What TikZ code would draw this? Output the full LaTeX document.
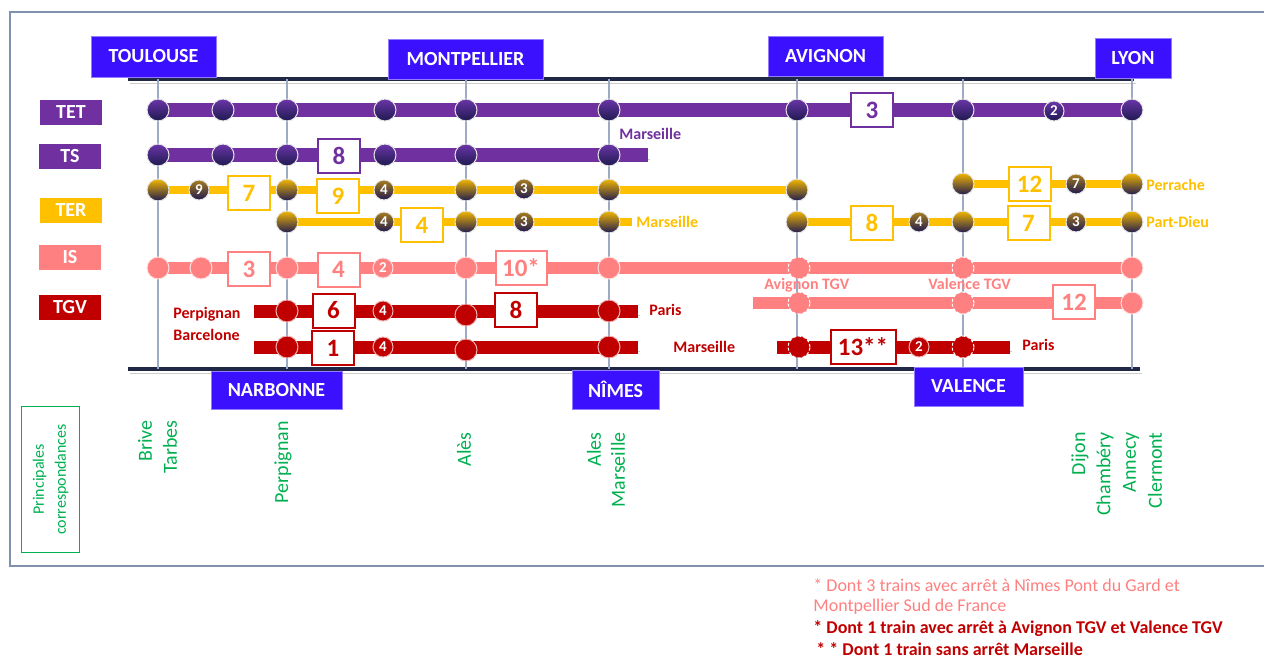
\documentclass[tikz,border=0pt]{standalone}
\usepackage{fontspec}
\setmainfont{Carlito}
\usetikzlibrary{positioning,shadings}

\definecolor{cityblue}{HTML}{3A10FF}
\definecolor{tetpurple}{HTML}{7030A0}
\definecolor{teryellow}{HTML}{FFC000}
\definecolor{issalmon}{HTML}{FF8080}
\definecolor{tgvred}{HTML}{C00000}
\definecolor{corrgreen}{HTML}{00B050}
\definecolor{railgray}{HTML}{9DAAC6}
\definecolor{framegray}{HTML}{8090AE}
\definecolor{navy}{HTML}{1F2847}
\definecolor{stndark}{HTML}{1E1A50}
\definecolor{stnpurple}{HTML}{6A35A8}
\definecolor{stngold}{HTML}{F2B600}
\definecolor{minorgold}{HTML}{A67C1E}

\pgfdeclarelayer{back}
\pgfdeclarelayer{mid}
\pgfsetlayers{back,mid,main}

\tikzset{
  city/.style={fill=cityblue, draw=cityblue!55!white, line width=0.4pt, text=white,
    font=\fontsize{10}{12}\selectfont\bfseries, inner sep=0pt},
  kind/.style={fill=#1, text=white, font=\fontsize{10}{12}\selectfont\bfseries,
    inner sep=0pt, minimum width=31pt, minimum height=12.5pt},
  numbox/.style={draw=#1, text=#1, fill=white, line width=1pt, inner sep=0pt,
    font=\fontsize{12.5}{14}\selectfont\bfseries, minimum width=21pt, minimum height=17pt},
  stn/.style={circle, inner sep=0pt, minimum size=11pt, line width=0.5pt},
  tetstn/.style={stn, draw=white!80!gray, top color=stnpurple, bottom color=stndark},
  terstn/.style={stn, draw=white!80!gray, top color=stngold, bottom color=stndark},
  isstn/.style={stn, draw=white!75!issalmon, fill=issalmon},
  tgvstn/.style={stn, draw=white!70!tgvred, fill=tgvred},
  via/.style={draw=white, dash pattern=on 1.5pt off 1pt},
  minor/.style={circle, inner sep=0pt, minimum size=10pt, line width=0.5pt, draw=white!80!gray,
    text=white, font=\fontsize{7.5}{8}\selectfont\bfseries},
  bar/.style={line width=#1, preaction={draw=black!20, transform canvas={shift={(1.2pt,-2pt)}}}},
  tag/.style={anchor=west, inner sep=0pt, font=\fontsize{8}{9.6}\selectfont\bfseries},
  corr/.style={rotate=90, anchor=east, inner sep=0pt, text=corrgreen, font=\fontsize{10}{12}\selectfont},
  note/.style={anchor=west, inner sep=0pt, font=\fontsize{9}{10}\selectfont},
}

\begin{document}
\begin{tikzpicture}[x=0.5pt, y=-0.5pt]
\useasboundingbox (0,0) rectangle (1264,659);

\begin{pgfonlayer}{back}
  \draw[framegray, line width=0.8pt] (10,12) rectangle (1280,566);
  \coordinate (top-w) at (128,79);
  \coordinate (top-e) at (1134,79);
  \coordinate (bot-w) at (128,369);
  \coordinate (bot-e) at (1140,369);
  \draw[bar=1.6pt, navy] (top-w) -- (top-e);
  \draw[bar=2pt, navy] (bot-w) -- (bot-e);
  \foreach \x [count=\i] in {158,287,466,609,797,963,1132} {
    \coordinate (rail\i-t) at (\x,79);
    \coordinate (rail\i-b) at (\x,369);
    \draw[railgray, line width=0.8pt] (rail\i-t) -- (rail\i-b);
  }
\end{pgfonlayer}

\node[city, minimum width=62.5pt, minimum height=20.5pt] (toulouse) at (153.5,56.5) {TOULOUSE};
\node[city, minimum width=77.5pt, minimum height=20pt] (montpellier) at (465.5,59) {MONTPELLIER};
\node[city, minimum width=57.5pt, minimum height=20pt] (avignon) at (825.5,56) {AVIGNON};
\node[city, minimum width=38pt, minimum height=20pt] (lyon) at (1133,58) {LYON};
\node[city, minimum width=65.5pt, minimum height=19pt] (narbonne) at (276.5,390) {NARBONNE};
\node[city, minimum width=43.5pt, minimum height=19.5pt] (nimes) at (615.5,389.5) {NÎMES};
\node[city, minimum width=54.5pt, minimum height=19.5pt] (valence) at (968.5,386.5) {VALENCE};

\node[kind=tetpurple] (lbl-tet) at (71,112) {TET};
\node[kind=tetpurple] (lbl-ts) at (70,156.5) {TS};
\node[kind=teryellow] (lbl-ter) at (71,210.5) {TER};
\node[kind=issalmon] (lbl-is) at (70,257.5) {IS};
\node[kind=tgvred] (lbl-tgv) at (70,307.5) {TGV};

\foreach \x [count=\i] in {158,223,287,385,466,609,797,963,1132}
  \node[tetstn] (tet\i) at (\x,110) {};
\foreach \x [count=\i] in {158,223,287,385,466,609}
  \node[tetstn] (ts\i) at (\x,155) {};
\foreach \x [count=\i] in {158,287,466,609,797}
  \node[terstn] (tera\i) at (\x,190) {};
\foreach \x [count=\i] in {963,1132}
  \node[terstn] (terb\i) at (\x,184) {};
\foreach \x [count=\i] in {287,466,609,797,963,1132}
  \node[terstn] (terc\i) at (\x,222) {};
\foreach \x/\s [count=\i] in {158/,201/,287/,466/,609/,799/via,963/via,1132/}
  \node[isstn,\s] (isa\i) at (\x,268) {};
\foreach \x/\s [count=\i] in {799/via,963/via,1132/}
  \node[isstn,\s] (isb\i) at (\x,303) {};
\foreach \x/\y [count=\i] in {287/311,466/315,609/311}
  \node[tgvstn] (tgva\i) at (\x,\y) {};
\foreach \x/\y [count=\i] in {287/347,466/350,609/347}
  \node[tgvstn] (tgvb\i) at (\x,\y) {};
\foreach \x [count=\i] in {799,963}
  \node[tgvstn,via] (tgvc\i) at (\x,347) {};

\begin{pgfonlayer}{mid}
  \coordinate (ts-e) at (648,155);
  \coordinate (terc-e) at (632,222);
  \coordinate (isb-w) at (753,303);
  \coordinate (tgva-w) at (254,311);
  \coordinate (tgva-e) at (638,311);
  \coordinate (tgvb-w) at (254,347);
  \coordinate (tgvb-e) at (638,347);
  \coordinate (tgvc-w) at (777,347);
  \coordinate (tgvc-e) at (1010,347);
  \draw[bar=7pt, tetpurple] (tet1.center) -- (tet9.center);
  \draw[bar=7pt, tetpurple] (ts1.center) -- (ts-e);
  \draw[line width=4pt, teryellow] (tera1.center) -- (tera5.center);
  \draw[line width=4pt, teryellow] (terb1.center) -- (terb2.center);
  \draw[line width=4pt, teryellow] (terc1.center) -- (terc-e);
  \draw[line width=4pt, teryellow] (terc4.center) -- (terc6.center);
  \draw[bar=6pt, issalmon] (isa1.center) -- (isa8.center);
  \draw[bar=6pt, issalmon] (isb-w) -- (isb3.center);
  \draw[bar=6.5pt, tgvred] (tgva-w) -- (tgva-e);
  \draw[bar=6.5pt, tgvred] (tgvb-w) -- (tgvb-e);
  \draw[bar=6.5pt, tgvred] (tgvc-w) -- (tgvc-e);
\end{pgfonlayer}

\node[minor, top color=stnpurple, bottom color=stndark] (tet-m1) at (1054,111) {2};
\foreach \x/\y/\n [count=\i] in {199/190/9,384/190/4,524/189/3,384/222/4,524/222/3,919/222/4,1076/184/7,1076/222/3}
  \node[minor, top color=minorgold, bottom color=stndark] (ter-m\i) at (\x,\y) {\n};
\node[minor, fill=issalmon, draw=white!75!issalmon] (is-m1) at (383,268) {2};
\foreach \x/\y/\n [count=\i] in {383/311/4,383/347/4,919/347/2}
  \node[minor, fill=tgvred, draw=white!70!tgvred] (tgv-m\i) at (\x,\y) {\n};

\node[numbox=tetpurple] (tet-n) at (872,110) {3};
\node[numbox=tetpurple] (ts-n) at (339,156) {8};
\node[numbox=teryellow] (ter-n1) at (249,193) {7};
\node[numbox=teryellow] (ter-n2) at (338,196) {9};
\node[numbox=teryellow] (ter-n3) at (422,225) {4};
\node[numbox=teryellow] (ter-n4) at (1029.5,184) {12};
\node[numbox=teryellow] (ter-n5) at (872,223) {8};
\node[numbox=teryellow] (ter-n6) at (1028.5,223) {7};
\node[numbox=issalmon] (is-n1) at (249,269) {3};
\node[numbox=issalmon] (is-n2) at (338.5,269.5) {4};
\node[numbox=issalmon, minimum width=25.5pt] (is-n3) at (521,268) {10*};
\node[numbox=issalmon] (is-n4) at (1074,302) {12};
\node[numbox=tgvred] (tgv-n1) at (333.5,310.5) {6};
\node[numbox=tgvred] (tgv-n2) at (516,310) {8};
\node[numbox=tgvred] (tgv-n3) at (333,348) {1};
\node[numbox=tgvred, minimum width=32.5pt] (tgv-n4) at (863,347) {13**};

\node[tag, text=tetpurple] (ts-to) at (619,134) {Marseille};
\node[tag, text=teryellow] (ter-to1) at (636,222) {Marseille};
\node[tag, text=teryellow] (ter-to2) at (1146,185) {Perrache};
\node[tag, text=teryellow] (ter-to3) at (1146,222) {Part-Dieu};
\node[tag, text=issalmon] (is-via1) at (764,285) {Avignon TGV};
\node[tag, text=issalmon] (is-via2) at (928,284) {Valence TGV};
\node[tag, text=tgvred] (tgv-from1) at (173,314) {Perpignan};
\node[tag, text=tgvred] (tgv-from2) at (173,335) {Barcelone};
\node[tag, text=tgvred] (tgv-to1) at (649,310) {Paris};
\node[tag, text=tgvred] (tgv-to2) at (673,347) {Marseille};
\node[tag, text=tgvred] (tgv-to3) at (1022,345) {Paris};

\node[draw=corrgreen, line width=0.6pt, rotate=90, minimum width=73pt, minimum height=29pt,
  inner sep=0pt, align=center, text=corrgreen, font=\fontsize{8}{11}\selectfont] (corr-box)
  at (50.5,479.5) {Principales\\correspondances};
\foreach \x/\y/\t [count=\i] in {145/420/Brive,170/420/Tarbes,283/421/Perpignan,464/432/Alès,
  594/432/Ales,618/432/Marseille,1080/432/Dijon,1105/432/Chambéry,1131/432/Annecy,1155/432/Clermont}
  \node[corr] (corr\i) at (\x,\y) {\t};

\node[note, text=issalmon] (note1) at (813,585) {* Dont 3 trains avec arrêt à Nîmes Pont du Gard et};
\node[note, text=issalmon] (note2) at (813,607) {Montpellier Sud de France};
\node[note, text=tgvred, font=\fontsize{9}{10}\selectfont\bfseries] (note3) at (813,629) {* Dont 1 train avec arrêt à Avignon TGV et Valence TGV};
\node[note, text=tgvred, font=\fontsize{9}{10}\selectfont\bfseries] (note4) at (816,649) {* * Dont 1 train sans arrêt Marseille};
\end{tikzpicture}
\end{document}
